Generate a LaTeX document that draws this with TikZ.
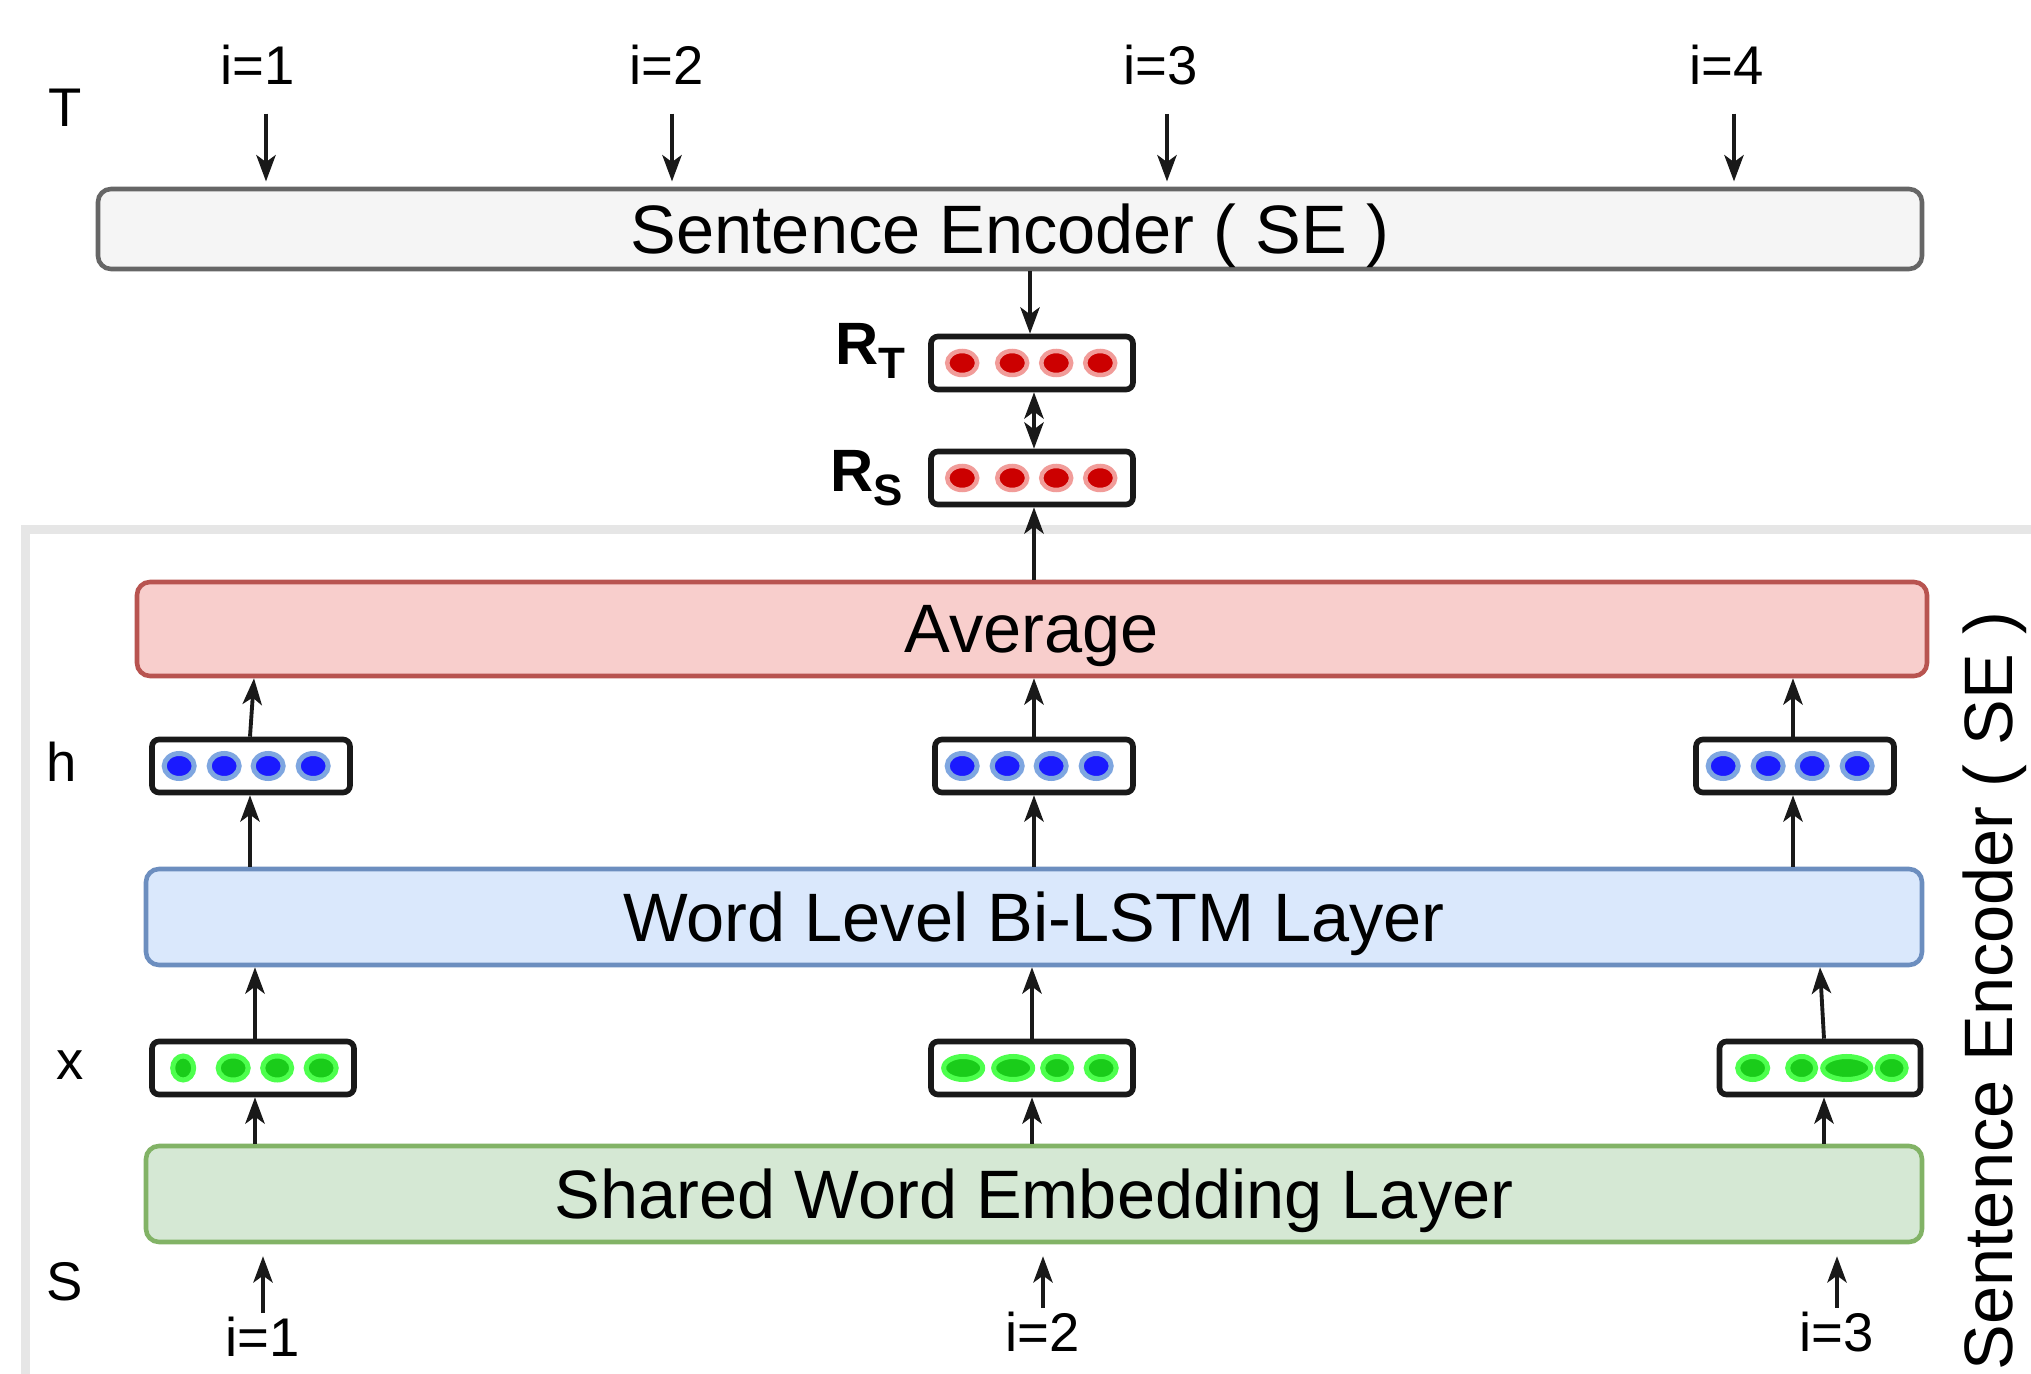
\documentclass[tikz,border=0pt]{standalone}
\usepackage{fontspec}
\setmainfont{Liberation Sans}
\usepackage{xcolor}
\usetikzlibrary{arrows.meta,positioning,calc}
\definecolor{segray}{HTML}{F5F5F5}
\definecolor{seline}{HTML}{666666}
\definecolor{avgfill}{HTML}{F8CECC}
\definecolor{avgline}{HTML}{B85450}
\definecolor{lstmfill}{HTML}{DAE8FC}
\definecolor{lstmline}{HTML}{6C8EBF}
\definecolor{embfill}{HTML}{D5E8D4}
\definecolor{embline}{HTML}{82B366}
\definecolor{framegray}{HTML}{E6E6E6}
\definecolor{redcore}{HTML}{CC0000}
\definecolor{redring}{HTML}{F19C99}
\definecolor{bluecore}{HTML}{1A1AFF}
\definecolor{bluering}{HTML}{7EA6E0}
\definecolor{greencore}{HTML}{1ACC1A}
\definecolor{greenring}{HTML}{4DFF4D}
\tikzset{
  >={Stealth[length=7.5pt,width=5.5pt,inset=2pt]},
  layer/.style = {draw, rounded corners=3.7pt, line width=1.3pt, inner sep=0pt, text depth=0pt, align=center, font=\fontsize{19.5}{23}\selectfont},
  vecbox/.style = {draw=black!90, rounded corners=2pt, line width=1.6pt, fill=white, inner sep=0pt, minimum height=0.53cm},
  lbl/.style = {inner sep=1pt, font=\fontsize{15.5}{18}\selectfont},
  rlbl/.style = {inner sep=1pt, font=\fontsize{17}{19}\selectfont\bfseries},
  arr/.style = {->, line width=1.1pt, black!90},
  reddot/.style = {draw=redring, fill=redcore, line width=0.045cm},
  bluedot/.style = {draw=bluering, fill=bluecore, line width=0.05cm},
  greendot/.style = {draw=greenring, fill=greencore, line width=0.05cm}
}
\newcommand{\subT}[1]{\raisebox{-4pt}{\fontsize{12.5}{13}\selectfont #1}}

\begin{document}
\begin{tikzpicture}
\useasboundingbox (0,0) rectangle (20.31,13.73);
% frame of the source side
\draw[framegray, line width=0.09cm] (0.26,-0.5) -- (0.26,8.43) -- (20.8,8.43);

% Target side
\node[lbl] (tlbl) at (0.65,12.65) {T};
\node[lbl] (t1) at (2.58,13.08) {i=1};
\node[lbl] (t2) at (6.67,13.08) {i=2};
\node[lbl] (t3) at (11.61,13.08) {i=3};
\node[lbl] (t4) at (17.27,13.08) {i=4};
\node[layer, fill=segray, draw=seline, minimum width=18.24cm, minimum height=0.80cm] (se) at (10.10,11.44) {Sentence Encoder ( SE )};
\draw[arr, shorten <=7pt, shorten >=1.5pt] (t1.south -| 2.66,0) -- (se.north -| 2.66,0);
\draw[arr, shorten <=7pt, shorten >=1.5pt] (t2.south -| 6.72,0) -- (se.north -| 6.72,0);
\draw[arr, shorten <=7pt, shorten >=1.5pt] (t3.south -| 11.67,0) -- (se.north -| 11.67,0);
\draw[arr, shorten <=7pt, shorten >=1.5pt] (t4.south -| 17.34,0) -- (se.north -| 17.34,0);

\node[vecbox, minimum width=2.02cm] (rt) at (10.32,10.10) {};
\node[vecbox, minimum width=2.02cm] (rs) at (10.32,8.95) {};
\node[rlbl, anchor=east] (rtl) at (9.10,10.22) {R\subT{T}};
\node[rlbl, anchor=east] (rsl) at (9.07,8.95) {R\subT{S}};
\foreach \dx in {0.34,0.84,1.28,1.72} {
  \filldraw[reddot] ($(rt.west)+(\dx,0)$) ellipse (0.15 and 0.12);
  \filldraw[reddot] ($(rs.west)+(\dx,0)$) ellipse (0.15 and 0.12);
}
\draw[arr] (se.south -| 10.30,0) -- (rt.north -| 10.30,0);
\draw[<->, line width=1.1pt, black!90] (rt.south -| 10.34,0) -- (rs.north -| 10.34,0);

% Source side
\node[layer, fill=avgfill, draw=avgline, minimum width=17.90cm, minimum height=0.94cm] (avg) at (10.32,7.44) {Average};
\node[layer, fill=lstmfill, draw=lstmline, minimum width=17.76cm, minimum height=0.96cm] (lstm) at (10.34,4.56) {Word Level Bi-LSTM Layer};
\node[layer, fill=embfill, draw=embline, minimum width=17.76cm, minimum height=0.96cm] (emb) at (10.34,1.79) {Shared Word Embedding Layer};

\node[lbl] (hlbl) at (0.62,6.11) {h};
\node[lbl] (xlbl) at (0.70,3.08) {x};
\node[lbl] (slbl) at (0.65,0.91) {S};

\node[vecbox, minimum width=1.98cm] (h1) at (2.51,6.07) {};
\node[vecbox, minimum width=1.98cm] (h2) at (10.34,6.07) {};
\node[vecbox, minimum width=1.98cm] (h3) at (17.95,6.07) {};
\foreach \h in {h1,h2,h3}
  \foreach \dx in {0.30,0.75,1.19,1.64}
    \filldraw[bluedot] ($(\h.west)+(\dx,0)$) ellipse (0.15 and 0.125);

\node[vecbox, minimum width=2.02cm] (x1) at (2.53,3.05) {};
\node[vecbox, minimum width=2.02cm] (x2) at (10.32,3.05) {};
\node[vecbox, minimum width=2.01cm] (x3) at (18.20,3.05) {};
\foreach \dx/\rx in {0.34/0.105,0.84/0.15,1.28/0.145,1.72/0.15}
  \filldraw[greendot] ($(x1.west)+(\dx,0)$) ellipse (\rx cm and 0.12cm);
\foreach \dx/\rx in {0.35/0.195,0.85/0.195,1.29/0.145,1.73/0.15}
  \filldraw[greendot] ($(x2.west)+(\dx,0)$) ellipse (\rx cm and 0.115cm);
\foreach \dx/\rx in {0.36/0.15,0.85/0.14,1.30/0.24,1.75/0.145}
  \filldraw[greendot] ($(x3.west)+(\dx,0)$) ellipse (\rx cm and 0.115cm);

\node[lbl] (s1) at (2.63,0.36) {i=1};
\node[lbl] (s2) at (10.43,0.41) {i=2};
\node[lbl] (s3) at (18.37,0.41) {i=3};
\foreach \s in {s1,s2,s3}
  \draw[arr, shorten >=3.4pt] (\s) -- (\s |- emb.south);

% columns
\draw[arr] (emb.north -| 2.55,0) -- (x1.south -| 2.55,0);
\draw[arr] (x1.north -| 2.55,0) -- (lstm.south -| 2.55,0);
\draw[arr] (lstm.north -| 2.50,0) -- (h1.south -| 2.50,0);
\draw[arr] (h1.north -| 2.50,0) -- (avg.south -| 2.54,0);

\draw[arr] (emb.north -| x2) -- (x2.south);
\draw[arr] (x2.north) -- (x2.north |- lstm.south);
\draw[arr] (lstm.north -| h2) -- (h2.south);
\draw[arr] (h2.north) -- (h2.north |- avg.south);
\draw[arr] (avg.north -| 10.34,0) -- (rs.south -| 10.34,0);

\draw[arr] (emb.north -| 18.24,0) -- (x3.south -| 18.24,0);
\draw[arr] (x3.north -| 18.24,0) -- (lstm.south -| 18.20,0);
\draw[arr] (lstm.north -| 17.93,0) -- (h3.south -| 17.93,0);
\draw[arr] (h3.north -| 17.93,0) -- (avg.south -| 17.93,0);

\node[rotate=90, font=\fontsize{19.5}{23}\selectfont] (selbl) at (19.95,3.82) {Sentence Encoder ( SE )};
\end{tikzpicture}
\end{document}
